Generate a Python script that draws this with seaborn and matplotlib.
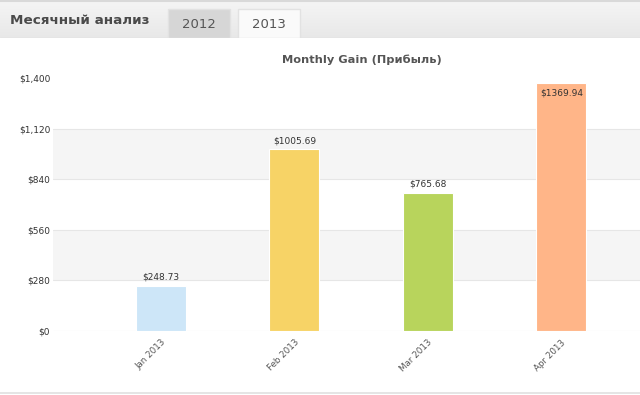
import numpy as np
import pandas as pd
import seaborn as sns
import matplotlib
matplotlib.use("Agg")
import matplotlib.pyplot as plt
from matplotlib.patches import Rectangle
from matplotlib.lines import Line2D

# data
months = ["Jan 2013", "Feb 2013", "Mar 2013", "Apr 2013"]
gains = [248.73, 1005.69, 765.68, 1369.94]
bar_colors = ["#cde6f8", "#f7d366", "#b8d45c", "#ffb588"]
y_ticks = [0, 280, 560, 840, 1120, 1400]
tabs = ["2012", "2013"]

sns.set_theme(style="white")
plt.rcParams["font.family"] = ["DejaVu Sans"]

W, H = 640, 395
fig = plt.figure(figsize=(W / 100, H / 100), dpi=100)
fig.patch.set_facecolor("white")

# header strip with the tabs
hdr_h = 38
hax = fig.add_axes([0, 1 - hdr_h / H, 1, hdr_h / H])
hax.set_xlim(0, W)
hax.set_ylim(hdr_h, 0)
hax.axis("off")
grad = np.linspace(0, 1, 50).reshape(-1, 1)
hax.imshow(grad, extent=[0, W, hdr_h, 0], aspect="auto",
           cmap=matplotlib.colors.LinearSegmentedColormap.from_list("g", ["#f5f5f5", "#e8e8e8"]),
           zorder=0)
hax.axhline(0.8, color="#d9d9d9", lw=1.5)
hax.axhline(hdr_h - 0.5, color="#dcdcdc", lw=1)
hax.text(10, 21, "Месячный анализ", fontsize=9.7, fontweight="bold",
         color="#4a4a4a", va="center", ha="left")
tab_x = [168, 238]
tab_fc = ["#d6d6d6", "#fafafa"]
for tx, fc, lab in zip(tab_x, tab_fc, tabs):
    hax.add_patch(Rectangle((tx, 9), 62, hdr_h - 9, facecolor=fc,
                            edgecolor="#e2e2e2", lw=1, zorder=2))
    hax.text(tx + 31, 24, lab, fontsize=9.5, color="#555555",
             ha="center", va="center", zorder=3)

# main chart
left, right = 53, 640
top, bottom = 78, 331
ax = fig.add_axes([left / W, 1 - bottom / H, (right - left) / W, (bottom - top) / H])

df = pd.DataFrame({"month": months, "gain": gains})
sns.barplot(data=df, x="month", y="gain", hue="month", palette=bar_colors,
            saturation=1, width=0.375, legend=False, ax=ax,
            edgecolor="#ffffff", linewidth=0.8, zorder=3)

ax.set_ylim(0, 1400)
ax.set_xlim(-0.81, 3.59)
ax.set_yticks(y_ticks)
ax.set_yticklabels([f"${v:,}" for v in y_ticks], fontsize=6.5, color="#333333")
ax.tick_params(axis="both", length=0)
ax.tick_params(axis="y", pad=2)

# alternating bands and gridlines
for i in range(len(y_ticks) - 1):
    if i % 2 == 1:
        ax.axhspan(y_ticks[i], y_ticks[i + 1], color="#f5f5f5", zorder=0, lw=0)
for v in y_ticks[:-1]:
    ax.axhline(v, color="#e6e6e6", lw=0.8, zorder=1)

for s in ax.spines.values():
    s.set_visible(False)
ax.set_xlabel("")
ax.set_ylabel("")
ax.set_facecolor("none")

ax.set_xticks(range(len(months)))
ax.set_xticklabels(months, rotation=45, ha="right", rotation_mode="anchor",
                   fontsize=6.3, color="#555555")
ax.tick_params(axis="x", pad=5)

# value labels
ymax = ax.get_ylim()[1]
for i, v in enumerate(gains):
    if v > ymax * 0.95:
        ax.annotate(f"${v:.2f}", (i, v), xytext=(0, -4), textcoords="offset points",
                    ha="center", va="top", fontsize=6.5, color="#333333", zorder=5)
    else:
        ax.annotate(f"${v:.2f}", (i, v), xytext=(0, 3), textcoords="offset points",
                    ha="center", va="bottom", fontsize=6.5, color="#333333", zorder=5)

fig.text(362 / W, 1 - 60 / H, "Monthly Gain (Прибыль)", ha="center", va="center",
         fontsize=8.2, fontweight="bold", color="#555555")

fig.add_artist(Line2D([0, 1], [1 - 392.5 / H] * 2, color="#e0e0e0", lw=1.2,
                      transform=fig.transFigure))

fig.savefig("out.png", dpi=100)
